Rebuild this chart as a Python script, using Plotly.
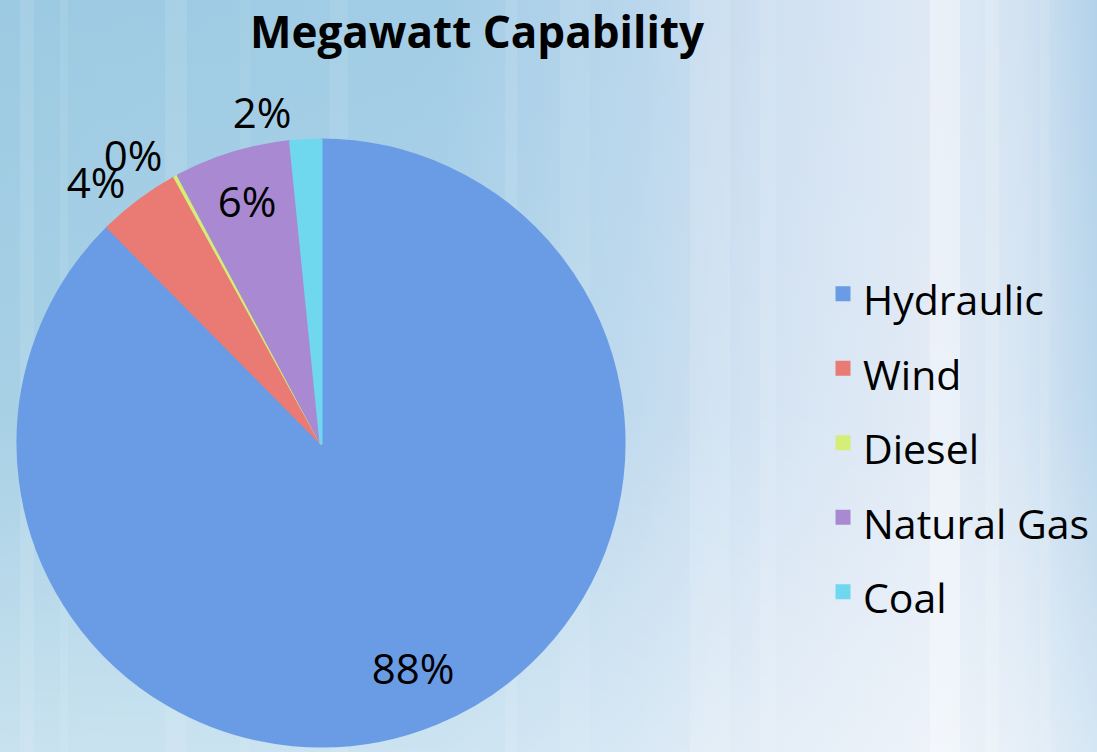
import base64
import plotly.graph_objects as go

# ---- data ----
categories = ["Hydraulic", "Wind", "Diesel", "Natural Gas", "Coal"]
shares = [87.6, 4.4, 0.2, 6.2, 1.6]
slice_colors = ["#6a9ce6", "#ea7a74", "#d4ee78", "#a98ad2", "#6fd8ee"]
title_text = "Megawatt Capability"

W, H = 1097, 752
FONT = "Open Sans"

# ---- background (decorative gradient with soft vertical streaks) ----
streaks = [(20, 14, 0.10), (60, 8, 0.08), (165, 22, 0.10), (240, 10, 0.06), (330, 18, 0.08),
           (505, 12, 0.10), (560, 30, 0.07), (690, 40, 0.12), (760, 16, 0.10), (930, 30, 0.35),
           (985, 14, 0.15), (1040, 10, 0.10)]
rects = "".join(
    f'<rect x="{x}" y="0" width="{w}" height="{H}" fill="white" fill-opacity="{o}"/>' for x, w, o in streaks
)
svg = f'''<svg xmlns="http://www.w3.org/2000/svg" width="{W}" height="{H}" viewBox="0 0 {W} {H}" preserveAspectRatio="none">
<defs>
<linearGradient id="h" x1="0" y1="0" x2="1" y2="0">
<stop offset="0" stop-color="#9ccae2"/>
<stop offset="0.40" stop-color="#a2cde6"/>
<stop offset="0.58" stop-color="#b9d6ec"/>
<stop offset="0.70" stop-color="#cfe0f1"/>
<stop offset="0.85" stop-color="#dfe9f5"/>
<stop offset="0.93" stop-color="#d3e3f2"/>
<stop offset="1" stop-color="#b3d2ea"/>
</linearGradient>
<linearGradient id="v" x1="0" y1="0" x2="0" y2="1">
<stop offset="0" stop-color="white" stop-opacity="0"/>
<stop offset="0.55" stop-color="white" stop-opacity="0.12"/>
<stop offset="1" stop-color="white" stop-opacity="0.45"/>
</linearGradient>
</defs>
<rect width="{W}" height="{H}" fill="url(#h)"/>
{rects}
<rect width="{W}" height="{H}" fill="url(#v)"/>
</svg>'''
bg_uri = "data:image/svg+xml;base64," + base64.b64encode(svg.encode()).decode()

domain = dict(x=[18 / W, 624 / W], y=[1 - 746 / H, 1 - 140 / H])
common = dict(values=shares, sort=False, direction="clockwise", rotation=0, domain=domain,
              texttemplate="%{percent:.0%}", insidetextorientation="horizontal",
              textfont=dict(family=FONT, size=42, color="black"))
legend_labels = [f'<span style="font-size:41px">{c}</span>' for c in categories]
clear = ["rgba(0,0,0,0)"] * len(categories)


def only(i, pos):
    return [pos if j == i else "none" for j in range(len(categories))]


fig = go.Figure()
# main pie: slices, legend and the label of the Natural Gas slice
fig.add_trace(go.Pie(
    labels=legend_labels,
    marker=dict(colors=slice_colors, line=dict(color=slice_colors, width=3)),
    textposition=only(3, "inside"),
    hoverinfo="label+percent",
    **common,
))
# transparent ring overlay: places the Hydraulic label toward the rim
fig.add_trace(go.Pie(
    labels=categories, hole=0.6, showlegend=False, hoverinfo="skip",
    marker=dict(colors=clear, line=dict(width=0)),
    textposition=only(0, "inside"), **common,
))
# transparent overlays: one outside label each (avoids label scooting/leader lines)
for i in (1, 2, 4):
    fig.add_trace(go.Pie(
        labels=categories, showlegend=False, hoverinfo="skip",
        marker=dict(colors=clear, line=dict(width=0)),
        textposition=only(i, "outside"), **common,
    ))

fig.update_layout(
    width=W,
    height=H,
    margin=dict(l=0, r=0, t=0, b=0),
    paper_bgcolor="#a6cfe6",
    images=[dict(source=bg_uri, xref="paper", yref="paper", x=0, y=1, sizex=1, sizey=1,
                 sizing="stretch", layer="below", xanchor="left", yanchor="top")],
    title=dict(text="<b>" + title_text + "</b>", x=477 / W, xanchor="center", xref="paper",
               y=1 - 33 / H, yanchor="middle", yref="container",
               font=dict(family=FONT, size=44, color="black")),
    legend=dict(x=823 / W, xanchor="left", y=1 - 443 / H, yanchor="middle",
                font=dict(family=FONT, size=55, color="black"),
                bgcolor="rgba(0,0,0,0)"),
    showlegend=True,
)

fig.write_html("out.html", config={"displayModeBar": False},
               post_script="document.body.style.margin='0';document.body.style.padding='0';")
